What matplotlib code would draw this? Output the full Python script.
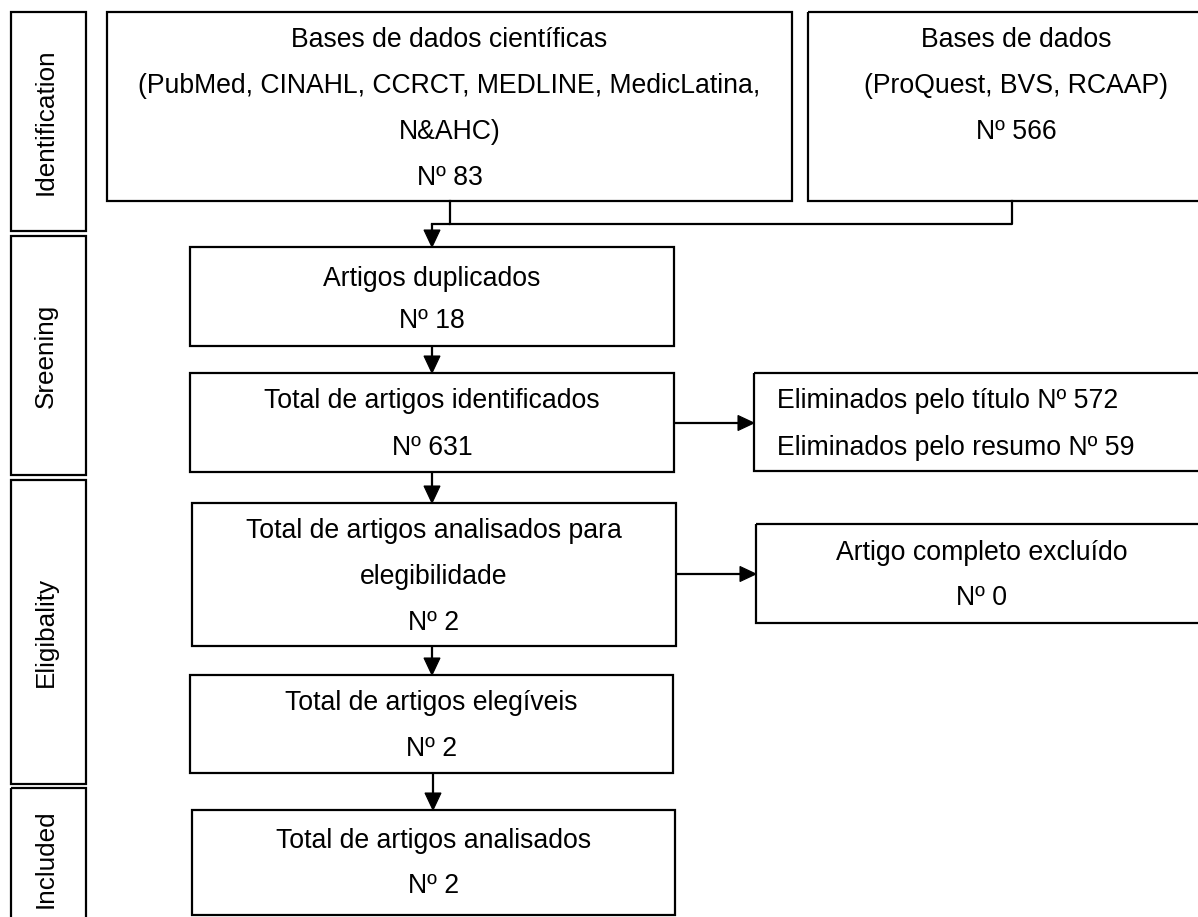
import matplotlib
matplotlib.use("Agg")
import matplotlib.pyplot as plt
from matplotlib.patches import Rectangle, Polygon

plt.rcParams['font.family'] = ['Liberation Sans', 'DejaVu Sans']

# ---- data ----
stages = ["Identification", "Sreening", "Eligibality", "Included"]
count_db1 = 83
count_db2 = 566
count_dup = 18
count_total = 631
count_excl_title = 572
count_excl_abstract = 59
count_eligibility = 2
count_full_excluded = 0
count_eligible = 2
count_analysed = 2

texts = {
    "db1": ["Bases de dados científicas",
            "(PubMed, CINAHL, CCRCT, MEDLINE, MedicLatina,",
            "N&AHC)",
            f"Nº {count_db1}"],
    "db2": ["Bases de dados", "(ProQuest, BVS, RCAAP)", f"Nº {count_db2}"],
    "dup": ["Artigos duplicados", f"Nº {count_dup}"],
    "total": ["Total de artigos identificados", f"Nº {count_total}"],
    "excl": [f"Eliminados pelo título Nº {count_excl_title}",
             f"Eliminados pelo resumo Nº {count_excl_abstract}"],
    "elig": ["Total de artigos analisados para", "elegibilidade",
             f"Nº {count_eligibility}"],
    "full": ["Artigo completo excluído", f"Nº {count_full_excluded}"],
    "eligible": ["Total de artigos elegíveis", f"Nº {count_eligible}"],
    "analysed": ["Total de artigos analisados", f"Nº {count_analysed}"],
}

# ---- layout (pixel coordinates) ----
W, H = 1198, 917
stage_boxes = [(11, 86, 12, 231), (11, 86, 236, 475), (11, 86, 480, 784), (11, 86, 788, 930)]
boxes = {
    "db1": ((107, 792, 12, 201), [40, 86, 132, 178], "center"),
    "db2": ((808, 1225, 12, 201), [40, 86, 132], "center"),
    "dup": ((190, 674, 247, 346), [279, 321], "center"),
    "total": ((190, 674, 373, 472), [401, 448], "center"),
    "excl": ((754, 1215, 373, 471), [401, 448], "left"),
    "elig": ((192, 676, 503, 646), [531, 577, 623], "center"),
    "full": ((756, 1208, 524, 623), [553, 598], "center"),
    "eligible": ((190, 673, 675, 773), [703, 749], "center"),
    "analysed": ((192, 675, 810, 915), [841, 886], "center"),
}

fig = plt.figure(figsize=(W / 100, H / 100), dpi=100)
ax = fig.add_axes([0, 0, 1, 1])
ax.set_xlim(0, W)
ax.set_ylim(H, 0)
ax.axis("off")

LW = 1.6
FS = 19.2
FS_STAGE = 18.8


def rect(x0, x1, y0, y1):
    ax.add_patch(Rectangle((x0, y0), x1 - x0, y1 - y0, fill=False,
                           edgecolor="black", linewidth=LW, clip_on=True))


def head(x, y, direction, length=17, width=16):
    if direction == "down":
        pts = [(x - width / 2, y - length), (x + width / 2, y - length), (x, y)]
    else:
        pts = [(x - length, y - width / 2), (x - length, y + width / 2), (x, y)]
    ax.add_patch(Polygon(pts, closed=True, facecolor="black", edgecolor="black", linewidth=0.8))


def vline_arrow(x, y0, y1):
    ax.plot([x, x], [y0, y1 - 10], color="black", lw=LW, solid_capstyle="butt")
    head(x, y1, "down")


def hline_arrow(y, x0, x1):
    ax.plot([x0, x1 - 10], [y, y], color="black", lw=LW, solid_capstyle="butt")
    head(x1, y, "right", length=16, width=15)


# stage labels
for (x0, x1, y0, y1), name in zip(stage_boxes, stages):
    rect(x0, x1, y0, y1)
    ax.text((x0 + x1) / 2 - 3, (y0 + y1) / 2, name, rotation=90,
            ha="center", va="center", fontsize=FS_STAGE)

# main boxes
for key, ((x0, x1, y0, y1), ys, align) in boxes.items():
    rect(x0, x1, y0, y1)
    for line, y in zip(texts[key], ys):
        if align == "left":
            ax.text(x0 + 23, y, line, ha="left", va="center", fontsize=FS)
        else:
            ax.text((x0 + x1) / 2, y, line, ha="center", va="center", fontsize=FS)

# connector from the two databases
ax.plot([449.5, 449.5, 432], [201, 224, 224], color="black", lw=LW)
ax.plot([1012, 1012, 449.5], [201, 224, 224], color="black", lw=LW)
vline_arrow(432, 224, 247)

# vertical flow arrows
vline_arrow(432, 346, 373)
vline_arrow(432, 472, 503)
vline_arrow(432, 646, 675)
vline_arrow(433, 773, 810)

# side arrows
hline_arrow(423, 674, 754)
hline_arrow(574, 676, 756)

fig.savefig("out.png", dpi=100)
